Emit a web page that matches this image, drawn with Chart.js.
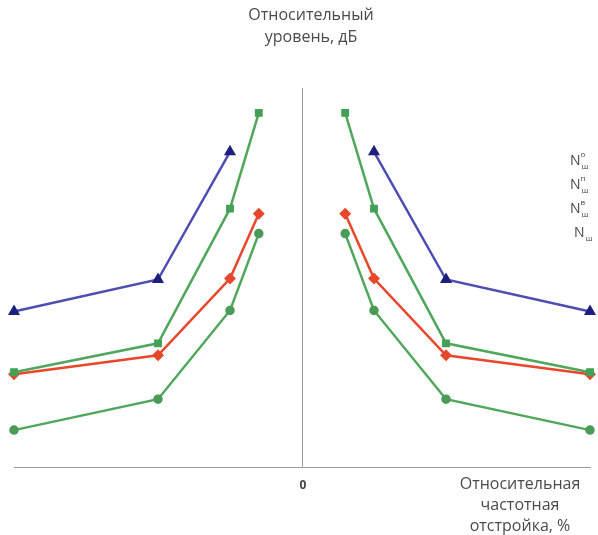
<!DOCTYPE html>
<html>
<head>
<meta charset="utf-8">
<script src="https://cdn.jsdelivr.net/npm/chart.js@4/dist/chart.umd.min.js"></script>
<style>
    html, body { margin: 0; padding: 0; background: #fff; }
    #wrap { width: 598px; height: 535px; position: relative; }
</style>
</head>
<body>
<div id="wrap"><canvas id="detuning-chart"></canvas></div>
<script>
"use strict";

// relative frequency detuning, % (the curves are mirrored on the negative side)
const offsets = [0.3, 0.5, 1, 2];

// relative level, dB
const levelBlue = [null, 31.6, 18.8, 15.6];
const levelGreenTop = [35.5, 25.9, 12.4, 9.5];
const levelRed = [25.4, 18.9, 11.2, 9.3];
const levelGreenLow = [23.4, 15.7, 6.8, 3.7];

const legendLabels = [
    { sup: 'о', sub: 'ш' },
    { sup: 'п', sub: 'ш' },
    { sup: 'в', sub: 'ш' },
    { sup: '', sub: 'ш' }
];

const yTitle = ['Относительный', 'уровень, дБ'];
const xTitle = ['Относительная', 'частотная', 'отстройка, %'];

const FONT = '"Open Sans", Lato, sans-serif';
const TEXT_COLOR = '#4a4a4a';

const side = (values, sign) => offsets
    .map((x, i) => ({ x: sign * x, y: values[i] }))
    .filter(p => p.y !== null);

const makeSeries = (values, color, markerColor, style, radius) => [1, -1].map(sign => ({
    data: side(values, sign),
    showLine: true,
    borderColor: color,
    borderWidth: 2.5,
    backgroundColor: markerColor,
    pointBorderColor: markerColor,
    pointBackgroundColor: markerColor,
    pointStyle: style,
    pointRadius: radius,
    pointHoverRadius: radius,
    clip: false
}));

const datasets = [
    ...makeSeries(levelGreenLow, '#4fa75c', '#4a9a58', 'circle', 3.5),
    ...makeSeries(levelGreenTop, '#4fa75c', '#43a055', 'rect', 3.8),
    ...makeSeries(levelRed, '#e8472b', '#e8472b', 'rectRot', 4.2),
    ...makeSeries(levelBlue, '#4d4db3', '#1e1e7e', 'triangle', 4.5)
];

const textPlugin = {
    id: 'chartTexts',
    afterDraw(chart) {
        const ctx = chart.ctx;
        const xs = chart.scales.x;
        const zeroX = xs.getPixelForValue(0);
        ctx.save();
        ctx.fillStyle = TEXT_COLOR;
        ctx.textAlign = 'center';
        ctx.textBaseline = 'middle';

        ctx.font = `16px ${FONT}`;
        ctx.fillText(yTitle[0], 311, 15);
        ctx.fillText(yTitle[1], 311, 37);

        ctx.fillText(xTitle[0], 520, 484);
        ctx.fillText(xTitle[1], 520, 505);
        ctx.fillText(xTitle[2], 520, 526);

        ctx.font = `bold 12px ${FONT}`;
        ctx.fillStyle = '#444';
        ctx.fillText('0', zeroX + 1, 486);

        // legend labels
        ctx.fillStyle = TEXT_COLOR;
        const rows = [161, 185, 209, 233];
        legendLabels.forEach((item, i) => {
            const x0 = item.sup ? 570 : 574;
            ctx.textAlign = 'left';
            ctx.font = `14px ${FONT}`;
            ctx.fillText('N', x0, rows[i]);
            const w = ctx.measureText('N').width;
            ctx.font = `8px ${FONT}`;
            if (item.sup) ctx.fillText(item.sup, x0 + w, rows[i] - 6);
            ctx.fillText(item.sub, x0 + w + 1, rows[i] + 6);
        });
        ctx.restore();
    }
};

new Chart(document.getElementById('detuning-chart'), {
    type: 'scatter',
    data: { datasets: datasets },
    options: {
        responsive: true,
        maintainAspectRatio: false,
        animation: false,
        layout: { padding: { left: 14, right: 8, top: 88, bottom: 68 } },
        plugins: {
            legend: { display: false },
            tooltip: { enabled: false }
        },
        scales: {
            x: {
                type: 'linear',
                min: -2,
                max: 2,
                grid: { display: false, drawTicks: false },
                ticks: { display: false },
                border: { display: true, color: '#9a9a9a', width: 1 },
                afterFit: (s) => { s.height = 0; }
            },
            y: {
                type: 'linear',
                min: 0,
                max: 38,
                position: { x: 0 },
                grid: { display: false, drawTicks: false },
                ticks: { display: false },
                border: { display: true, color: '#9a9a9a', width: 1 },
                afterFit: (s) => { s.width = 0; }
            }
        }
    },
    plugins: [textPlugin]
});
</script>
</body>
</html>
